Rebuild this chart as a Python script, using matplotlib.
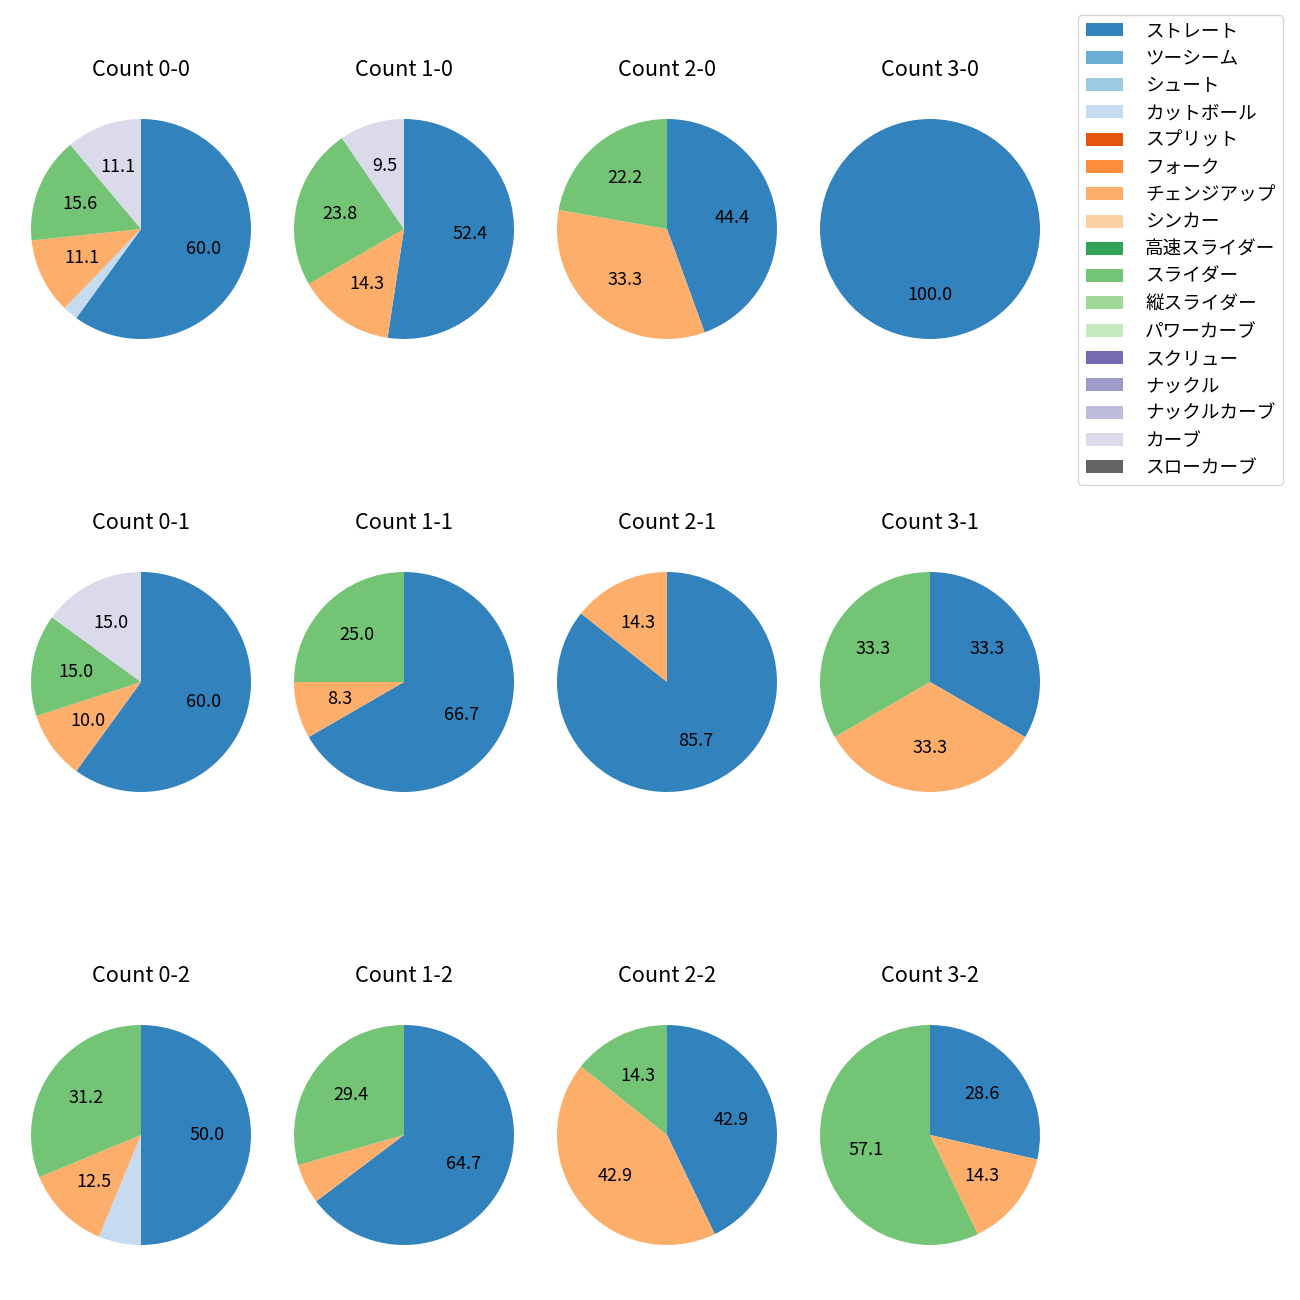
import matplotlib.pyplot as plt
from matplotlib.patches import Patch

plt.rcParams['font.family'] = ['Noto Sans CJK JP', 'DejaVu Sans']

#--- pitch types (legend order)
pitch_types = ['ストレート', 'ツーシーム', 'シュート', 'カットボール', 'スプリット',
               'フォーク', 'チェンジアップ', 'シンカー', '高速スライダー', 'スライダー',
               '縦スライダー', 'パワーカーブ', 'スクリュー', 'ナックル', 'ナックルカーブ',
               'カーブ', 'スローカーブ']

#--- pitch counts per ball-strike count, in pitch_types order
count_labels = ['0-0', '1-0', '2-0', '3-0',
                '0-1', '1-1', '2-1', '3-1',
                '0-2', '1-2', '2-2', '3-2']

pitch_counts = {
    '0-0': [27, 0, 0, 1, 0, 0, 5, 0, 0, 7, 0, 0, 0, 0, 0, 5, 0],
    '1-0': [11, 0, 0, 0, 0, 0, 3, 0, 0, 5, 0, 0, 0, 0, 0, 2, 0],
    '2-0': [4, 0, 0, 0, 0, 0, 3, 0, 0, 2, 0, 0, 0, 0, 0, 0, 0],
    '3-0': [1, 0, 0, 0, 0, 0, 0, 0, 0, 0, 0, 0, 0, 0, 0, 0, 0],
    '0-1': [12, 0, 0, 0, 0, 0, 2, 0, 0, 3, 0, 0, 0, 0, 0, 3, 0],
    '1-1': [8, 0, 0, 0, 0, 0, 1, 0, 0, 3, 0, 0, 0, 0, 0, 0, 0],
    '2-1': [6, 0, 0, 0, 0, 0, 1, 0, 0, 0, 0, 0, 0, 0, 0, 0, 0],
    '3-1': [1, 0, 0, 0, 0, 0, 1, 0, 0, 1, 0, 0, 0, 0, 0, 0, 0],
    '0-2': [8, 0, 0, 1, 0, 0, 2, 0, 0, 5, 0, 0, 0, 0, 0, 0, 0],
    '1-2': [11, 0, 0, 0, 0, 0, 1, 0, 0, 5, 0, 0, 0, 0, 0, 0, 0],
    '2-2': [3, 0, 0, 0, 0, 0, 3, 0, 0, 1, 0, 0, 0, 0, 0, 0, 0],
    '3-2': [2, 0, 0, 0, 0, 0, 1, 0, 0, 4, 0, 0, 0, 0, 0, 0, 0],
}

cmap   = plt.get_cmap('tab20c')
colors = [cmap(i) for i in range(len(pitch_types))]

fig = plt.figure(figsize=(13, 13), dpi=100)

#--- axes placement (pixels)
W, H  = 1300.0, 1300.0
side  = 275.0
cx0, dx = 141.0, 263.0
cy0, dy = 229.0, 453.0

for k, cnt in enumerate(count_labels):
    r_f, c_f = divmod(k, 4)
    cx = cx0 + dx * c_f
    cy = cy0 + dy * r_f
    ax = fig.add_axes([(cx - side / 2) / W, 1 - (cy + side / 2) / H, side / W, side / H])

    vals = [v for v in pitch_counts[cnt] if v > 0]
    cols = [colors[i] for i, v in enumerate(pitch_counts[cnt]) if v > 0]

    ax.pie(vals, colors=cols, startangle=90, counterclock=False,
           autopct=lambda p: ('%.1f' % p) if p >= 7 else '',
           textprops={'fontsize': 13})
    ax.set_title('Count ' + cnt, fontsize=15.6, pad=11)

handles = [Patch(facecolor=c) for c in colors]
fig.legend(handles, pitch_types, loc='upper right',
           bbox_to_anchor=(1283 / W, 1 - 15 / H), borderaxespad=0,
           fontsize=13.4, handletextpad=1.2)

plt.savefig('out.png', dpi=100)
